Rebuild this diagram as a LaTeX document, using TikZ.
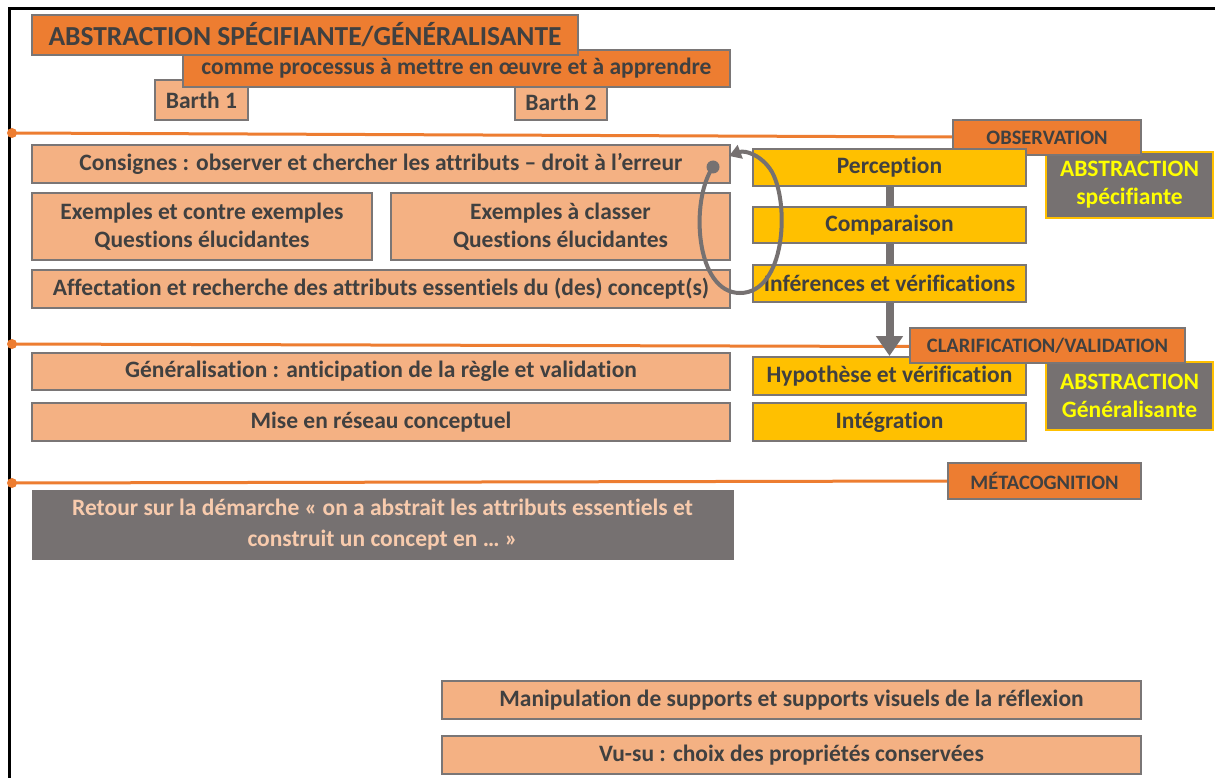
\documentclass[tikz,border=0pt]{standalone}
\usepackage{fontspec}
\setmainfont[Ligatures={NoCommon}]{Carlito}
\usetikzlibrary{arrows.meta}
\definecolor{orangeA}{HTML}{ED7D31}
\definecolor{orangeL}{HTML}{F4B183}
\definecolor{goldA}{HTML}{FFC000}
\definecolor{grayA}{HTML}{767171}
\definecolor{edgeA}{HTML}{7A7676}
\definecolor{textA}{HTML}{404040}
\definecolor{yelA}{HTML}{FFFF00}
\definecolor{peachT}{HTML}{F8CBAD}
\tikzset{
  base/.style={draw=edgeA, line width=2.5pt, inner sep=0pt, align=center,
    text=textA, font=\bfseries\fontsize{23.5}{28}\selectfont},
  lbox/.style={base, fill=orangeL},
  obox/.style={base, fill=orangeA},
  gbox/.style={base, fill=goldA},
  tag/.style={obox, font=\bfseries\fontsize{20.5}{24}\selectfont},
  absbox/.style={base, fill=grayA, draw=goldA, text=yelA,
    font=\bfseries\fontsize{23.5}{28}\selectfont},
  sz/.style 2 args={minimum width=#1pt, minimum height=#2pt},
  phase/.style={draw=orangeA, line width=3pt},
  flow/.style={draw=grayA, line width=8pt},
  loopline/.style={draw=grayA, line width=4pt}
}
\begin{document}
\begin{tikzpicture}[x=1pt,y=-1pt]
\useasboundingbox (0,0) rectangle (1215,778);
\fill[white] (0,0) rectangle (1215,778);
% frame
\draw[black, line width=3pt] (9,778) -- (9,8.5) -- (1215,8.5);

% header
\node[lbox, sz={93}{40}] (b1) at (201.5,100) {Barth 1};
\node[lbox, sz={92}{35}] (b2) at (561,102.5) {Barth 2};
\node[obox, sz={547}{37}] (sub) at (456.5,68.5)
  {comme processus à mettre en œuvre et à apprendre};
\node[obox, sz={546}{40}, font=\bfseries\fontsize{27.5}{30}\selectfont] (title) at (305,35)
  {ABSTRACTION SPÉCIFIANTE/GÉNÉRALISANTE};

% side summaries (behind the phase tags)
\node[absbox, sz={167}{66}] (absS) at (1129.5,185) {ABSTRACTION\\spécifiante};
\node[absbox, sz={167}{68}] (absG) at (1129.5,396) {ABSTRACTION\\Généralisante};

% phase lines
\coordinate (p1) at (12,133);
\coordinate (p2) at (12,344);
\coordinate (p3) at (12,483);
\draw[phase] (p1) -- (953,137);
\fill[orangeA] (p1) circle (5);
\draw[phase] (p2) -- (910,346.5);
\fill[orangeA] (p2) circle (5);
\draw[phase] (p3) -- (948,481);
\fill[orangeA] (p3) circle (5);

% phase tags
\node[tag, sz={188}{35}] (obs) at (1047,137.5) {OBSERVATION};
\node[tag, sz={193}{36}] (meta) at (1044.5,481) {MÉTACOGNITION};

% left column
\node[lbox, sz={698}{38}] (cons) at (381,164)
  {Consignes : observer et chercher les attributs – droit à l’erreur};
\node[lbox, sz={340}{67}] (ex1) at (202,226.5)
  {Exemples et contre exemples\\Questions élucidantes};
\node[lbox, sz={339}{67}] (ex2) at (560.5,226.5)
  {Exemples à classer\\Questions élucidantes};
\node[lbox, sz={698}{38}] (aff) at (381,289)
  {Affectation et recherche des attributs essentiels du (des) concept(s)};
\node[lbox, sz={698}{37}] (gen) at (381,371.5)
  {Généralisation : anticipation de la règle et validation};
\node[lbox, sz={698}{38}] (mise) at (381,422)
  {Mise en réseau conceptuel};
\node[base, fill=grayA, draw=grayA, line width=1pt, text=peachT, sz={701}{69},
  font=\bfseries\fontsize{23.5}{31}\selectfont] (ret) at (382.5,524.5)
  {Retour sur la démarche « on a abstrait les attributs essentiels et\\construit un concept en … »};

% right column
\node[gbox, sz={273}{37}] (perc) at (889.5,167.5) {Perception};
\node[gbox, sz={273}{36}] (comp) at (889.5,225) {Comparaison};
\node[gbox, sz={273}{37}] (inf) at (889.5,283.5) {Inférences et vérifications};
\node[gbox, sz={273}{38}] (hyp) at (889.5,376) {Hypothèse et vérification};
\node[gbox, sz={273}{38}] (integ) at (889.5,422) {Intégration};

% flow
\draw[flow] (perc.south) -- (comp.north);
\draw[flow] (comp.south) -- (inf.north);
\draw[flow, -{Triangle[width=26pt,length=20pt]}] (inf.south) -- (889.5,356);

\node[tag, sz={275}{35}] (clar) at (1047.5,345.5) {CLARIFICATION/VALIDATION};

% loop
\coordinate (ls) at (713,167);
\coordinate (le) at (729,156);
\draw[loopline, -{Triangle[width=14pt,length=12pt]}] (ls)
  .. controls (690,200) and (695,293) .. (740,293)
  .. controls (785,293) and (790,205) .. (772,172)
  .. controls (762,155) and (745,150) .. (le);
\fill[grayA] (ls) circle (6.5);

% bottom
\node[lbox, sz={699}{38}] (man) at (791.5,700)
  {Manipulation de supports et supports visuels de la réflexion};
\node[lbox, sz={699}{38}] (vu) at (791.5,755)
  {Vu-su : choix des propriétés conservées};
\end{tikzpicture}
\end{document}
